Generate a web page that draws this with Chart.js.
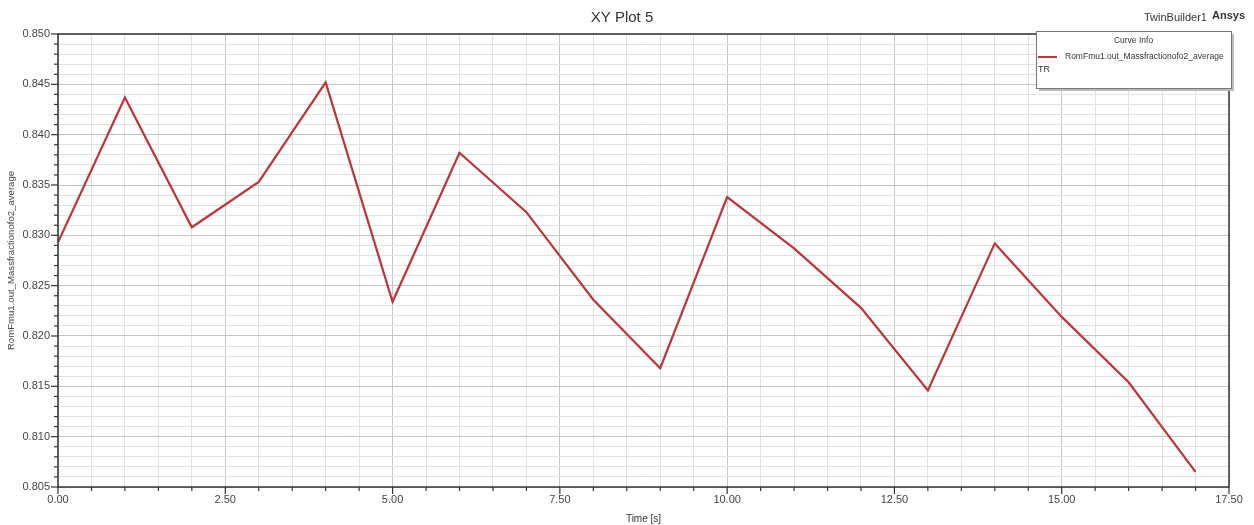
<!DOCTYPE html>
<html>
<head>
<meta charset="utf-8">
<script src="https://cdn.jsdelivr.net/npm/chart.js@4/dist/chart.umd.min.js"></script>
<style>
  html, body { margin: 0; padding: 0; background: #fff; }
  #wrap { width: 1254px; height: 525px; }
</style>
</head>
<body>
<div id="wrap"><canvas id="xyPlot"></canvas></div>
<script>
// ----------------------------
// Data
// ----------------------------
const timeValues = [0, 1, 2, 3, 4, 5, 6, 7, 8, 9, 10, 11, 12, 13, 14, 15, 16, 17];
const massFraction = [0.8293, 0.8437, 0.8308, 0.8353, 0.8452, 0.8234, 0.8382, 0.8323, 0.8236,
                      0.8168, 0.8338, 0.8287, 0.8228, 0.8146, 0.8292, 0.8219, 0.8154, 0.8065];
const seriesLabel = "RomFmu1.out_Massfractionofo2_average";
const xTickLabels = ["0.00", "2.50", "5.00", "7.50", "10.00", "12.50", "15.00", "17.50"];
const yTickLabels = ["0.805", "0.810", "0.815", "0.820", "0.825", "0.830", "0.835", "0.840", "0.845", "0.850"];

const FONT = "'Liberation Sans', Arial, sans-serif";
const isMajor = (v, step) => Math.abs(v / step - Math.round(v / step)) < 1e-6;

// ----------------------------
// Frame, ticks, header text and legend box
// ----------------------------
const decorPlugin = {
  id: 'decor',
  afterDraw(chart) {
    const { ctx, chartArea: a, scales } = chart;
    ctx.save();

    // outer frame of plot area
    ctx.strokeStyle = '#333';
    ctx.lineWidth = 1.5;
    ctx.strokeRect(a.left, a.top, a.right - a.left, a.bottom - a.top);

    // tick marks (major longer)
    ctx.lineWidth = 1.2;
    scales.x.ticks.forEach(t => {
      const px = scales.x.getPixelForValue(t.value);
      const len = isMajor(t.value, 2.5) ? 7 : 4;
      ctx.beginPath(); ctx.moveTo(px, a.bottom); ctx.lineTo(px, a.bottom + len); ctx.stroke();
    });
    scales.y.ticks.forEach(t => {
      const py = scales.y.getPixelForValue(t.value);
      const len = isMajor(t.value, 0.005) ? 7 : 4;
      ctx.beginPath(); ctx.moveTo(a.left, py); ctx.lineTo(a.left - len, py); ctx.stroke();
    });

    // title & header
    ctx.fillStyle = '#333';
    ctx.textBaseline = 'middle';
    ctx.textAlign = 'center';
    ctx.font = `15px ${FONT}`;
    ctx.fillText('XY Plot 5', 622, 18);
    ctx.textAlign = 'left';
    ctx.font = `11px ${FONT}`;
    ctx.fillText('TwinBuilder1', 1144, 18);
    ctx.font = `bold 11px ${FONT}`;
    ctx.fillText('Ansys', 1212, 16);

    // legend box "Curve Info"
    const bx = 1036, by = 31, bw = 195, bh = 57;
    ctx.fillStyle = '#bbb';
    ctx.fillRect(bx + 3, by + 3, bw, bh);
    ctx.fillStyle = '#fff';
    ctx.fillRect(bx, by, bw, bh);
    ctx.strokeStyle = '#777';
    ctx.lineWidth = 1;
    ctx.strokeRect(bx + 0.5, by + 0.5, bw, bh);
    ctx.fillStyle = '#333';
    ctx.font = `8.5px ${FONT}`;
    ctx.textAlign = 'center';
    ctx.fillText('Curve Info', bx + bw / 2, 41);
    ctx.strokeStyle = '#c0393f';
    ctx.lineWidth = 2;
    ctx.beginPath(); ctx.moveTo(1038, 57); ctx.lineTo(1057, 57); ctx.stroke();
    ctx.textAlign = 'left';
    ctx.fillText(seriesLabel, 1065, 57);
    ctx.font = `9px ${FONT}`;
    ctx.fillText('TR', 1038, 70);

    ctx.restore();
  }
};

// ----------------------------
// Chart
// ----------------------------
const ctx = document.getElementById("xyPlot").getContext("2d");

new Chart(ctx, {
  type: 'line',
  data: {
    datasets: [{
      label: seriesLabel,
      data: timeValues.map((t, i) => ({ x: t, y: massFraction[i] })),
      borderColor: '#bd343b',
      borderWidth: 2.2,
      pointRadius: 0,
      tension: 0,
      fill: false
    }]
  },
  options: {
    responsive: true,
    maintainAspectRatio: false,
    animation: false,
    layout: { padding: { top: 34, right: 25, left: 0, bottom: 0 } },
    plugins: {
      legend: { display: false },
      title: { display: false },
      tooltip: { enabled: false }
    },
    scales: {
      x: {
        type: 'linear',
        min: 0,
        max: 17.5,
        afterFit: s => { s.height = 38; },
        ticks: {
          stepSize: 0.5,
          autoSkip: false,
          maxRotation: 0,
          padding: 6,
          color: '#444',
          font: { family: FONT, size: 11 },
          callback: v => isMajor(v, 2.5) ? xTickLabels[Math.round(v / 2.5)] : ''
        },
        grid: {
          drawTicks: false,
          color: c => isMajor(c.tick.value, 2.5) ? '#c4c4c4' : '#e2e2e2',
          lineWidth: 1
        },
        border: { display: false },
        title: {
          display: true,
          text: 'Time [s]',
          color: '#333',
          font: { family: FONT, size: 10 },
          padding: { top: 2, bottom: 0 }
        }
      },
      y: {
        min: 0.805,
        max: 0.850,
        afterFit: s => { s.width = 58; },
        ticks: {
          stepSize: 0.001,
          autoSkip: false,
          padding: 8,
          color: '#444',
          font: { family: FONT, size: 11 },
          callback: v => isMajor(v, 0.005) ? yTickLabels[Math.round((v - 0.805) / 0.005)] : ''
        },
        grid: {
          drawTicks: false,
          color: c => isMajor(c.tick.value, 0.005) ? '#c4c4c4' : '#e2e2e2',
          lineWidth: 1
        },
        border: { display: false },
        title: {
          display: true,
          text: seriesLabel,
          color: '#444',
          font: { family: FONT, size: 9.6 },
          padding: { top: 6, bottom: 0 }
        }
      }
    }
  },
  plugins: [decorPlugin]
});
</script>
</body>
</html>
